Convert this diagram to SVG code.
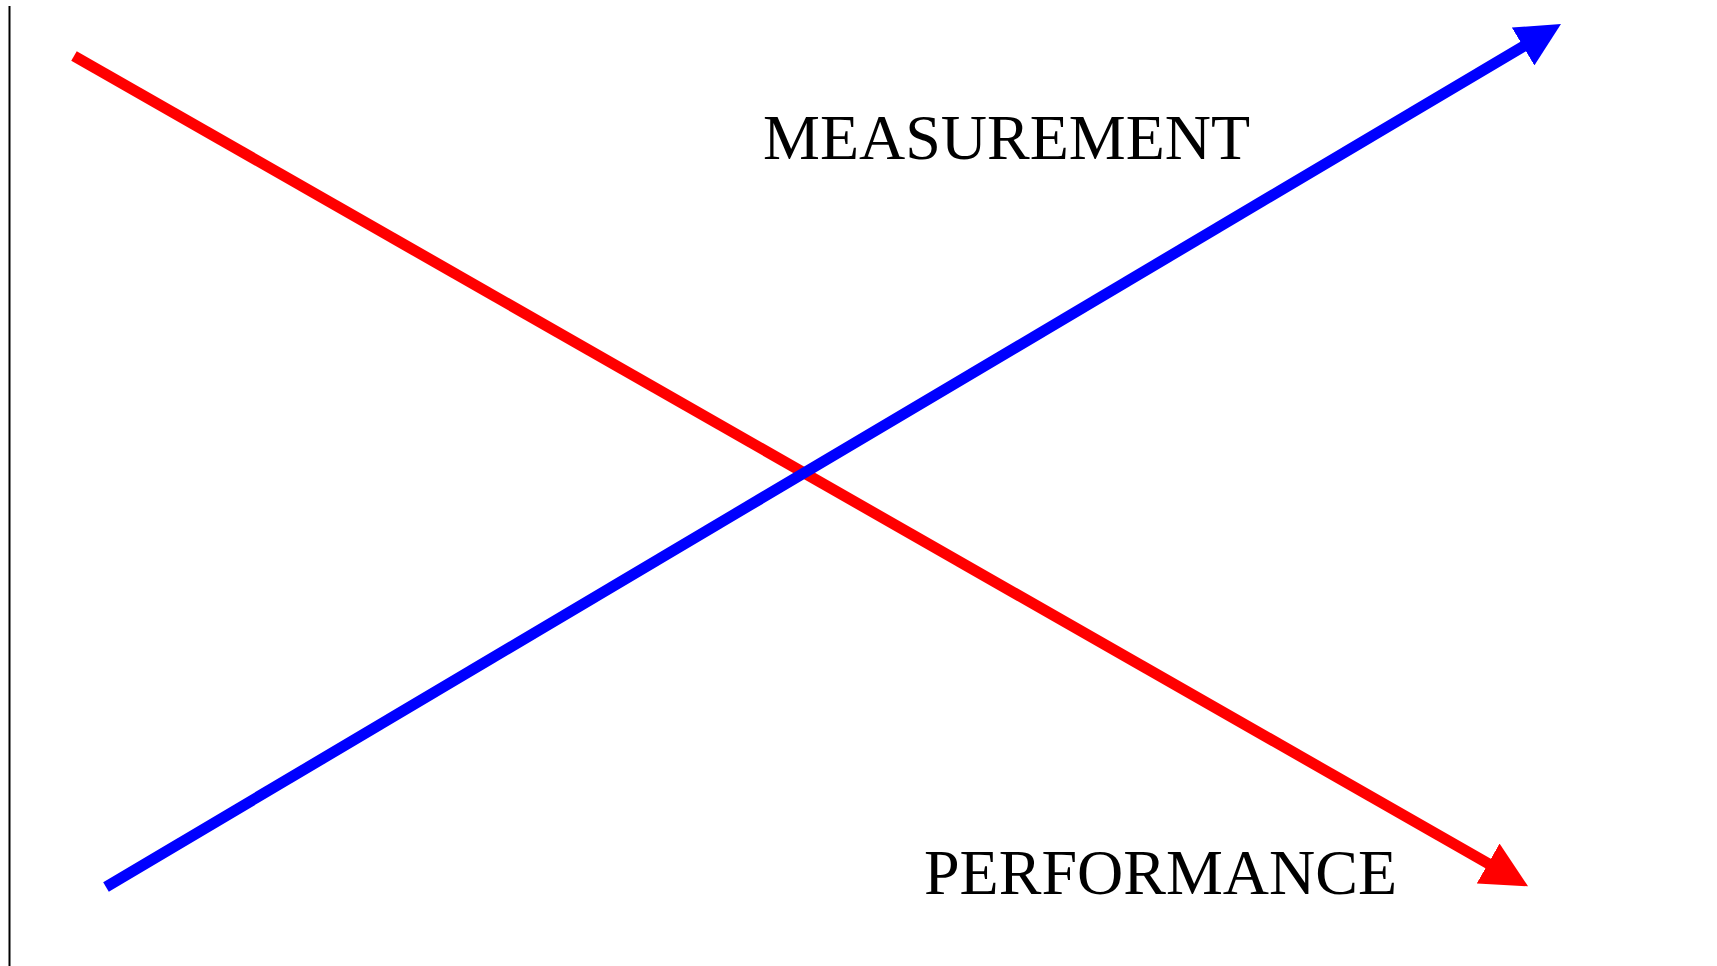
<svg xmlns="http://www.w3.org/2000/svg" width="1717" height="966" viewBox="0 0 1717 966">
  <style>
    .lbl { font-family: "Liberation Serif", "Times New Roman", serif; font-size: 64px; fill: #000; }
    .ln { fill: none; stroke-width: 11; stroke-linecap: butt; }
  </style>
  <defs>
    <marker id="arR" markerUnits="userSpaceOnUse" markerWidth="46" markerHeight="46" refX="1" refY="23" orient="auto" viewBox="0 0 46 46">
      <path d="M0,0 L46,23 L0,46 Z" fill="#ff0000"/>
    </marker>
    <marker id="arB" markerUnits="userSpaceOnUse" markerWidth="44" markerHeight="44" refX="1" refY="22" orient="auto" viewBox="0 0 44 44">
      <path d="M0,0 L44,22 L0,44 Z" fill="#0000ff"/>
    </marker>
  </defs>
  <rect width="1717" height="966" fill="#ffffff"/>
  <g id="axis">
    <line x1="9.5" y1="6" x2="9.5" y2="966" stroke="#000" stroke-width="2"/>
  </g>
  <g id="connectors">
    <line class="ln" x1="74" y1="56" x2="1489" y2="864" stroke="#ff0000" marker-end="url(#arR)"/>
    <line class="ln" x1="106" y1="887" x2="1524" y2="46" stroke="#0000ff" marker-end="url(#arB)"/>
  </g>
  <g id="measurement">
    <text class="lbl" x="763" y="159">MEASUREMENT</text>
  </g>
  <g id="performance">
    <text class="lbl" x="924" y="894">PERFORMANCE</text>
  </g>
</svg>
